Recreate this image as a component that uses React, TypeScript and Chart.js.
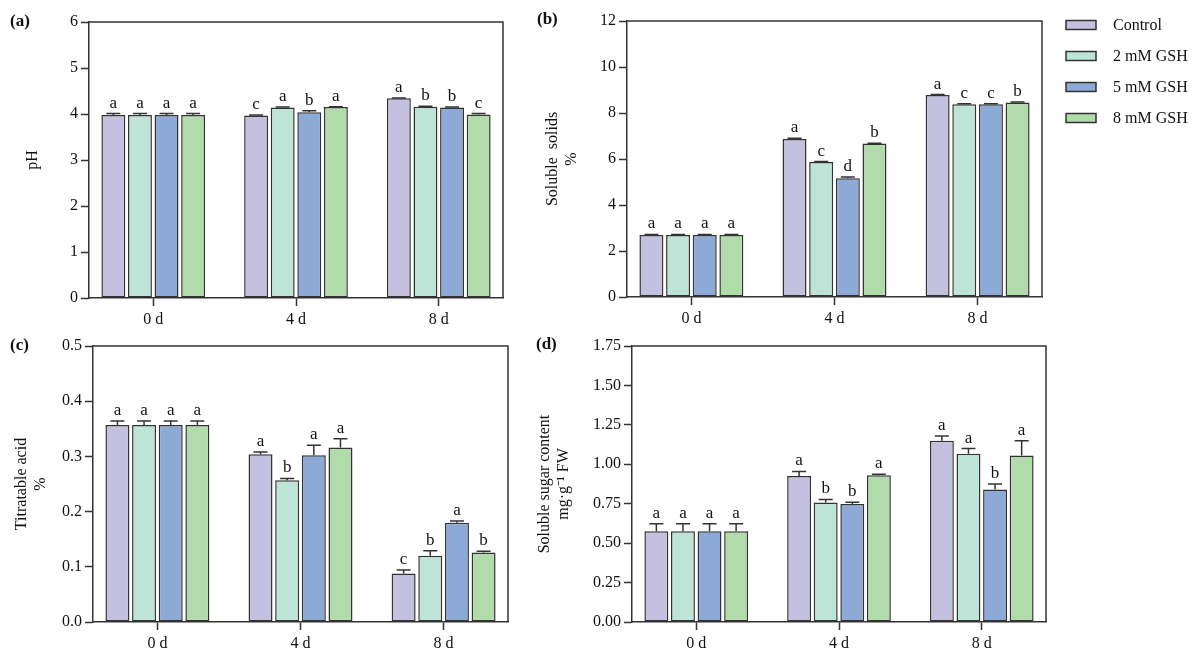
import React, { useEffect, useRef } from "react";
import { Chart, registerables } from "chart.js";

Chart.register(...registerables);

const FONT = "'Liberation Serif', 'Times New Roman', serif";

const days = ["0 d", "4 d", "8 d"];
const treatments = ["Control", "2 mM GSH", "5 mM GSH", "8 mM GSH"];
const fillColors = ["#c4c0e0", "#bee4d8", "#8caad5", "#b1dbab"];
const edgeColor = "#333333";

// (a) pH — one array per treatment, values for 0 d, 4 d, 8 d
const phValues = [
  [3.98, 3.97, 4.34],
  [3.98, 4.14, 4.16],
  [3.98, 4.04, 4.14],
  [3.98, 4.15, 3.99],
];
const phErrors = [
  [0.03, 0.01, 0.01],
  [0.03, 0.01, 0.01],
  [0.03, 0.03, 0.01],
  [0.03, 0.01, 0.02],
];
const phLetters = [
  ["a", "c", "a"],
  ["a", "a", "b"],
  ["a", "b", "b"],
  ["a", "a", "c"],
];

// (b) Soluble solids %
const solidsValues = [
  [2.7, 6.87, 8.78],
  [2.7, 5.87, 8.38],
  [2.7, 5.16, 8.38],
  [2.7, 6.67, 8.46],
];
const solidsErrors = [
  [0.02, 0.03, 0.02],
  [0.02, 0.02, 0.02],
  [0.02, 0.06, 0.02],
  [0.02, 0.02, 0.02],
];
const solidsLetters = [
  ["a", "a", "a"],
  ["a", "c", "c"],
  ["a", "d", "c"],
  ["a", "b", "b"],
];

// (c) Titratable acid %
const acidValues = [
  [0.357, 0.304, 0.088],
  [0.357, 0.257, 0.12],
  [0.357, 0.302, 0.18],
  [0.357, 0.316, 0.126],
];
const acidErrors = [
  [0.007, 0.004, 0.006],
  [0.007, 0.003, 0.009],
  [0.007, 0.018, 0.003],
  [0.007, 0.016, 0.002],
];
const acidLetters = [
  ["a", "a", "c"],
  ["a", "b", "b"],
  ["a", "a", "a"],
  ["a", "a", "b"],
];

// (d) Soluble sugar content mg·g-1 FW
const sugarValues = [
  [0.575, 0.925, 1.15],
  [0.575, 0.757, 1.067],
  [0.575, 0.748, 0.84],
  [0.575, 0.93, 1.055],
];
const sugarErrors = [
  [0.048, 0.03, 0.03],
  [0.048, 0.02, 0.033],
  [0.048, 0.012, 0.035],
  [0.048, 0.007, 0.095],
];
const sugarLetters = [
  ["a", "a", "a"],
  ["a", "b", "a"],
  ["a", "b", "b"],
  ["a", "a", "a"],
];

type PanelProps = {
  label: string;
  left: number;
  top: number;
  width: number;
  height: number;
  area: { left: number; top: number; right: number; bottom: number };
  labelPos: { x: number; y: number };
  title: string | string[];
  titlePad: number;
  yMax: number;
  yStep: number;
  decimals: number;
  values: number[][];
  errors: number[][];
  letters: string[][];
  legend?: { x: number; y: number; gap: number };
};

const decorPlugin = {
  id: "decor",
  afterDatasetsDraw(chart: any, _args: any, opts: any) {
    const { ctx, chartArea } = chart;
    const ys = chart.scales.y;
    ctx.save();
    // box top & right
    ctx.strokeStyle = edgeColor;
    ctx.lineWidth = 1.5;
    ctx.beginPath();
    ctx.moveTo(chartArea.left, chartArea.top);
    ctx.lineTo(chartArea.right, chartArea.top);
    ctx.lineTo(chartArea.right, chartArea.bottom);
    ctx.stroke();
    // error bars & letters
    ctx.font = `17px ${FONT}`;
    ctx.fillStyle = "#111";
    ctx.textAlign = "center";
    ctx.textBaseline = "alphabetic";
    chart.data.datasets.forEach((ds: any, di: number) => {
      const meta = chart.getDatasetMeta(di);
      meta.data.forEach((bar: any, i: number) => {
        const v = ds.data[i].y;
        const e = opts.errors[di][i];
        const x = bar.x;
        const yTop = ys.getPixelForValue(v);
        const yErr = ys.getPixelForValue(v + e);
        ctx.strokeStyle = edgeColor;
        ctx.lineWidth = 1.5;
        ctx.beginPath();
        ctx.moveTo(x, yTop);
        ctx.lineTo(x, yErr);
        ctx.moveTo(x - 7, yErr);
        ctx.lineTo(x + 7, yErr);
        ctx.stroke();
        ctx.fillText(opts.letters[di][i], x, yErr - 6);
      });
    });
    ctx.restore();
  },
  afterDraw(chart: any, _args: any, opts: any) {
    const { ctx } = chart;
    ctx.save();
    ctx.fillStyle = "#111";
    ctx.font = `bold 17px ${FONT}`;
    ctx.textAlign = "left";
    ctx.textBaseline = "middle";
    ctx.fillText(opts.label, opts.labelPos.x, opts.labelPos.y);
    if (opts.legend) {
      const lg = opts.legend;
      ctx.font = `16px ${FONT}`;
      chart.data.datasets.forEach((ds: any, i: number) => {
        const cy = lg.y + i * lg.gap;
        ctx.fillStyle = ds.backgroundColor;
        ctx.fillRect(lg.x, cy - 4.5, 30, 9);
        ctx.strokeStyle = edgeColor;
        ctx.lineWidth = 1.5;
        ctx.strokeRect(lg.x, cy - 4.5, 30, 9);
        ctx.fillStyle = "#111";
        ctx.fillText(ds.label, lg.x + 47, cy + 1);
      });
    }
    ctx.restore();
  },
};

function Panel(p: PanelProps) {
  const ref = useRef<HTMLCanvasElement>(null);
  useEffect(() => {
    if (!ref.current) return;
    const datasets = treatments.map((t, ti) => ({
      label: t,
      data: p.values[ti].map((v, i) => ({ x: i, y: v })),
      backgroundColor: fillColors[ti],
      borderColor: edgeColor,
      borderWidth: 1.5,
      borderSkipped: false,
      categoryPercentage: 0.745,
      barPercentage: 0.9,
    }));
    const chart = new Chart(ref.current, {
      type: "bar",
      data: { datasets },
      plugins: [decorPlugin],
      options: {
        animation: false,
        responsive: false,
        devicePixelRatio: 1,
        layout: {
          padding: { left: 0, top: p.area.top, right: p.width - p.area.right, bottom: 0 },
        },
        font: { family: FONT, size: 16 },
        color: "#111",
        plugins: {
          legend: { display: false },
          tooltip: { enabled: false },
          decor: {
            label: p.label,
            labelPos: p.labelPos,
            errors: p.errors,
            letters: p.letters,
            legend: p.legend,
          },
        } as any,
        scales: {
          x: {
            type: "linear",
            min: -0.45,
            max: 2.45,
            offset: false,
            bounds: "data",
            afterBuildTicks: (s: any) => {
              s.ticks = days.map((_, i) => ({ value: i }));
            },
            afterFit: (s: any) => {
              s.height = p.height - p.area.bottom;
            },
            ticks: {
              callback: (v: any) => days[v] ?? "",
              font: { family: FONT, size: 16 },
              color: "#111",
              padding: 4,
              maxRotation: 0,
              autoSkip: false,
            },
            grid: {
              display: true,
              offset: false,
              drawOnChartArea: false,
              drawTicks: true,
              tickLength: 8,
              tickColor: edgeColor,
              tickWidth: 1.5,
            },
            border: { display: true, color: edgeColor, width: 1.5 },
          },
          y: {
            type: "linear",
            min: 0,
            max: p.yMax,
            afterFit: (s: any) => {
              s.width = p.area.left;
            },
            ticks: {
              stepSize: p.yStep,
              callback: (v: any) => Number(v).toFixed(p.decimals),
              font: { family: FONT, size: 16 },
              color: "#111",
              padding: 3,
            },
            grid: {
              display: true,
              drawOnChartArea: false,
              drawTicks: true,
              tickLength: 8,
              tickColor: edgeColor,
              tickWidth: 1.5,
            },
            border: { display: true, color: edgeColor, width: 1.5 },
            title: {
              display: true,
              text: p.title,
              font: { family: FONT, size: 16 },
              color: "#111",
              padding: { top: p.titlePad, bottom: 0 },
            },
          },
        },
      } as any,
    });
    return () => chart.destroy();
  }, []);
  return (
    <canvas
      ref={ref}
      width={p.width}
      height={p.height}
      style={{ position: "absolute", left: p.left, top: p.top, width: p.width, height: p.height }}
    />
  );
}

export default function App() {
  return (
    <div style={{ position: "absolute", left: 0, top: 0, width: 1200, height: 664, background: "#fff", overflow: "hidden" }}>
      <Panel
        label="(a)"
        left={0}
        top={0}
        width={520}
        height={332}
        area={{ left: 89, top: 22, right: 503, bottom: 298 }}
        labelPos={{ x: 10, y: 22 }}
        title="pH"
        titlePad={23}
        yMax={6}
        yStep={1}
        decimals={0}
        values={phValues}
        errors={phErrors}
        letters={phLetters}
      />
      <Panel
        label="(b)"
        left={520}
        top={0}
        width={680}
        height={332}
        area={{ left: 107, top: 21, right: 522, bottom: 297 }}
        labelPos={{ x: 17, y: 20 }}
        title={["Soluble  solids", "%"]}
        titlePad={23}
        yMax={12}
        yStep={2}
        decimals={0}
        values={solidsValues}
        errors={solidsErrors}
        letters={solidsLetters}
        legend={{ x: 546, y: 25, gap: 31 }}
      />
      <Panel
        label="(c)"
        left={0}
        top={332}
        width={520}
        height={332}
        area={{ left: 93, top: 14, right: 508, bottom: 290 }}
        labelPos={{ x: 10, y: 14 }}
        title={["Titratable acid", "%"]}
        titlePad={12}
        yMax={0.5}
        yStep={0.1}
        decimals={1}
        values={acidValues}
        errors={acidErrors}
        letters={acidLetters}
      />
      <Panel
        label="(d)"
        left={520}
        top={332}
        width={680}
        height={332}
        area={{ left: 112, top: 14, right: 526, bottom: 290 }}
        labelPos={{ x: 16, y: 13 }}
        title={["Soluble sugar content", "mg·g⁻¹ FW"]}
        titlePad={15}
        yMax={1.75}
        yStep={0.25}
        decimals={2}
        values={sugarValues}
        errors={sugarErrors}
        letters={sugarLetters}
      />
    </div>
  );
}
